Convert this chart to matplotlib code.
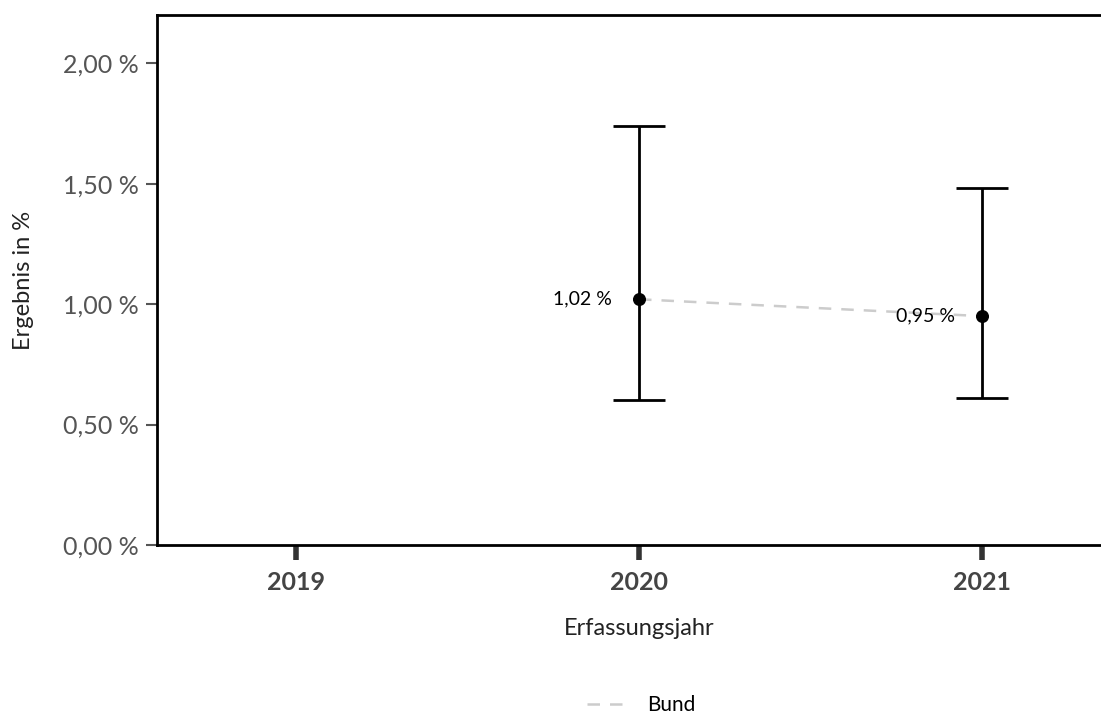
import matplotlib
matplotlib.use("Agg")
import matplotlib.pyplot as plt
from matplotlib.ticker import FuncFormatter

plt.rcParams['font.family'] = ['Lato', 'DejaVu Sans']

years = [2019, 2020, 2021]
est_years = [2020, 2021]
values = [1.02, 0.95]
lower = [0.60, 0.61]
upper = [1.74, 1.48]
labels = ["1,02 %", "0,95 %"]
yticks = [0.0, 0.5, 1.0, 1.5, 2.0]

W, H = 1101, 715
fig = plt.figure(figsize=(W / 100, H / 100), dpi=100)
left, right, top, bottom = 157, 1121, 15, 545
ax = fig.add_axes([left / W, (H - bottom) / H, (right - left) / W, (bottom - top) / H])
ax.set_xlim(2018.595, 2021.405)
ax.set_ylim(0, 2.2)

# Bund line
ax.plot(est_years, values, linestyle=(0, (5, 4)), color='#cccccc', linewidth=1.8,
        label='Bund', zorder=2)

# error bars
ax.errorbar(est_years,
            values,
            yerr=[[v - l for v, l in zip(values, lower)], [u - v for v, u in zip(values, upper)]],
            fmt='none', ecolor='black', elinewidth=2, capsize=18.4, capthick=2, zorder=3)
ax.scatter(est_years, values, s=70, color='black', zorder=4)

for x, v, t in zip(est_years, values, labels):
    ax.annotate(t, (x, v), xytext=(-27, 0), textcoords='offset pixels',
                ha='right', va='center', fontsize=14, color='black')

ax.set_xticks(years)
ax.set_xticklabels([str(y) for y in years], fontweight='bold', fontsize=18, color='#444444')
ax.set_yticks(yticks)
ax.yaxis.set_major_formatter(FuncFormatter(lambda v, p: f"{v:.2f}".replace('.', ',') + " %"))
for lab in ax.get_yticklabels():
    lab.set_fontsize(18)
    lab.set_color('#555555')

ax.tick_params(axis='x', direction='out', length=11, width=4, color='#333333', pad=8)
ax.tick_params(axis='y', direction='out', length=8, width=1.5, color='#555555', pad=5)

for s in ['left', 'top', 'bottom']:
    ax.spines[s].set_linewidth(2)
    ax.spines[s].set_color('black')
ax.spines['right'].set_visible(False)

ax.set_xlabel('Erfassungsjahr', fontsize=17, color='#222222', labelpad=17)
ax.set_ylabel('Ergebnis in %', fontsize=17, color='#222222', labelpad=21)

leg = fig.legend(loc='center', bbox_to_anchor=(641 / W, 1 - 705 / H), frameon=False,
                 fontsize=15, handlelength=1.9, handletextpad=1.0)

fig.savefig('out.png', dpi=100)
